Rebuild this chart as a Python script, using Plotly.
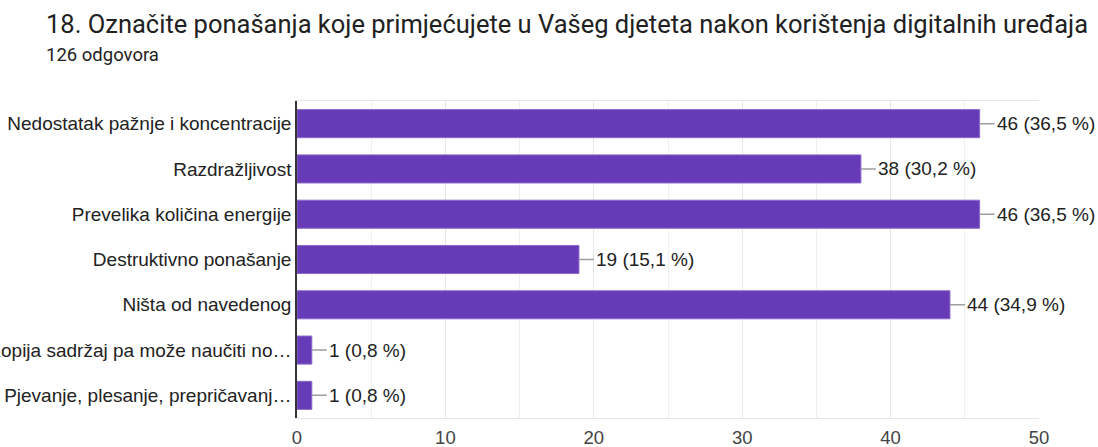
import plotly.graph_objects as go

categories = [
    "Nedostatak pažnje i koncentracije",
    "Razdražljivost",
    "Prevelika količina energije",
    "Destruktivno ponašanje",
    "Ništa od navedenog",
    "Kopija sadržaj pa može naučiti no…",
    "Pjevanje, plesanje, prepričavanj…",
]
counts = [46, 38, 46, 19, 44, 1, 1]
percents = ["36,5", "30,2", "36,5", "15,1", "34,9", "0,8", "0,8"]
x_ticks = [0, 10, 20, 30, 40, 50]

title_text = "18. Označite ponašanja koje primjećujete u Vašeg djeteta nakon korištenja digitalnih uređaja"
subtitle_text = "126 odgovora"

W, H = 1098, 447
ML, MR, MT, MB = 297, 59, 101, 29
PW, PH = W - ML - MR, H - MT - MB

fig = go.Figure()
fig.add_trace(go.Bar(
    y=categories, x=counts, orientation="h",
    marker=dict(color="#673AB7", line=dict(color="#8a6acb", width=1)),
    hoverinfo="skip",
))

for c, v, p in zip(categories, counts, percents):
    fig.add_annotation(
        x=v, y=c, xref="x", yref="y",
        text=f"{v} ({p} %)",
        showarrow=True, arrowhead=0, arrowwidth=1.5, arrowcolor="#9e9e9e",
        ax=15, ay=0, xanchor="left",
        font=dict(family="Liberation Sans, Arial", size=19, color="#222222"),
    )

fig.add_annotation(
    text=title_text, xref="paper", yref="paper",
    x=(44 - ML) / PW, y=1 + (MT - 41) / PH,
    xanchor="left", yanchor="bottom", showarrow=False,
    font=dict(family="Roboto", size=25.5, color="#212121"),
)
fig.add_annotation(
    text=subtitle_text, xref="paper", yref="paper",
    x=(44 - ML) / PW, y=1 + (MT - 68) / PH,
    xanchor="left", yanchor="bottom", showarrow=False,
    font=dict(family="Roboto", size=18.5, color="#212121"),
)

fig.update_layout(
    width=W, height=H,
    margin=dict(l=ML, r=MR, t=MT, b=MB, autoexpand=False),
    paper_bgcolor="white", plot_bgcolor="white",
    bargap=0.38,
    showlegend=False,
    font=dict(family="Liberation Sans, Arial", color="#222222"),
    xaxis=dict(
        range=[0, 50], tickvals=x_ticks, ticks="",
        showgrid=True, gridcolor="#e6e6e6", gridwidth=1,
        minor=dict(dtick=5, showgrid=True, gridcolor="#efefef", gridwidth=1),
        showline=True, mirror=True, linecolor="#e6e6e6", linewidth=1,
        zeroline=False, ticklabelstandoff=3,
        tickfont=dict(family="Liberation Sans, Arial", size=18.5, color="#444444"),
        fixedrange=True,
    ),
    yaxis=dict(
        autorange="reversed", showgrid=False, zeroline=False,
        showline=True, linecolor="#333333", linewidth=1.5,
        ticks="", ticklabelstandoff=0,
        tickfont=dict(family="Liberation Sans, Arial", size=19, color="#222222"),
        automargin=False, fixedrange=True,
    ),
)

fig.write_html(
    "out.html",
    config={"displayModeBar": False},
    post_script="document.body.style.margin='0';document.body.style.overflow='hidden';",
)
